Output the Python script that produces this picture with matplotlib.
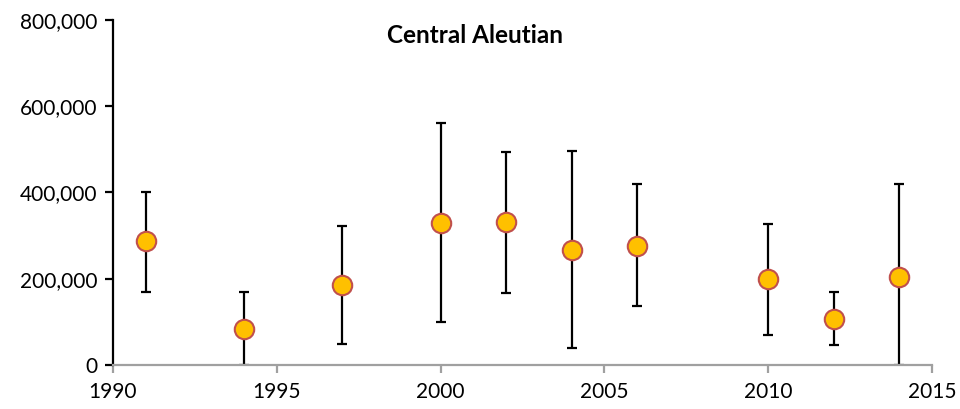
import matplotlib.pyplot as plt
from matplotlib.ticker import FuncFormatter

# survey years and estimates
years = [1991, 1994, 1997, 2000, 2002, 2004, 2006, 2010, 2012, 2014]
estimate = [287000, 83000, 185000, 330000, 331000, 267000, 277000, 199000, 107000, 204000]
upper = [400000, 170000, 322000, 560000, 495000, 497000, 419000, 327000, 170000, 419000]
lower = [170000, 0, 48000, 99000, 167000, 40000, 137000, 69000, 46000, 0]

plt.rcParams['font.family'] = ['Lato', 'DejaVu Sans']

fig = plt.figure(figsize=(9.6, 4.09), dpi=100)
ax = fig.add_axes([113 / 960, 44 / 409, 819 / 960, 345 / 409])

err_lo = [e - l for e, l in zip(estimate, lower)]
err_hi = [u - e for e, u in zip(estimate, upper)]
ax.errorbar(years, estimate, yerr=[err_lo, err_hi], fmt='none', ecolor='black',
            elinewidth=1.6, capsize=3.5, capthick=1.6, zorder=2)
ax.plot(years, estimate, 'o', markersize=14, markerfacecolor='#FFC000',
        markeredgecolor='#C0504D', markeredgewidth=1.5, zorder=3, clip_on=False)

ax.set_xlim(1990, 2015)
ax.set_ylim(0, 800000)
ax.set_xticks(range(1990, 2016, 5))
ax.set_yticks(range(0, 800001, 200000))
ax.yaxis.set_major_formatter(FuncFormatter(lambda v, p: f"{int(v):,}"))

for s in ['top', 'right']:
    ax.spines[s].set_visible(False)
ax.spines['left'].set_color('black')
ax.spines['left'].set_linewidth(1.6)
ax.spines['bottom'].set_color('#A0A0A0')
ax.spines['bottom'].set_linewidth(1.6)
ax.tick_params(axis='y', direction='out', length=6, width=1.6, color='black',
               labelsize=15, pad=5)
ax.tick_params(axis='x', direction='out', length=6, width=1.6, color='#A0A0A0',
               labelsize=15, pad=6)

ax.text(0.442, 0.955, 'Central Aleutian', transform=ax.transAxes, ha='center',
        va='center', fontsize=17.5, fontweight='bold')

fig.savefig('out.png', dpi=100)
